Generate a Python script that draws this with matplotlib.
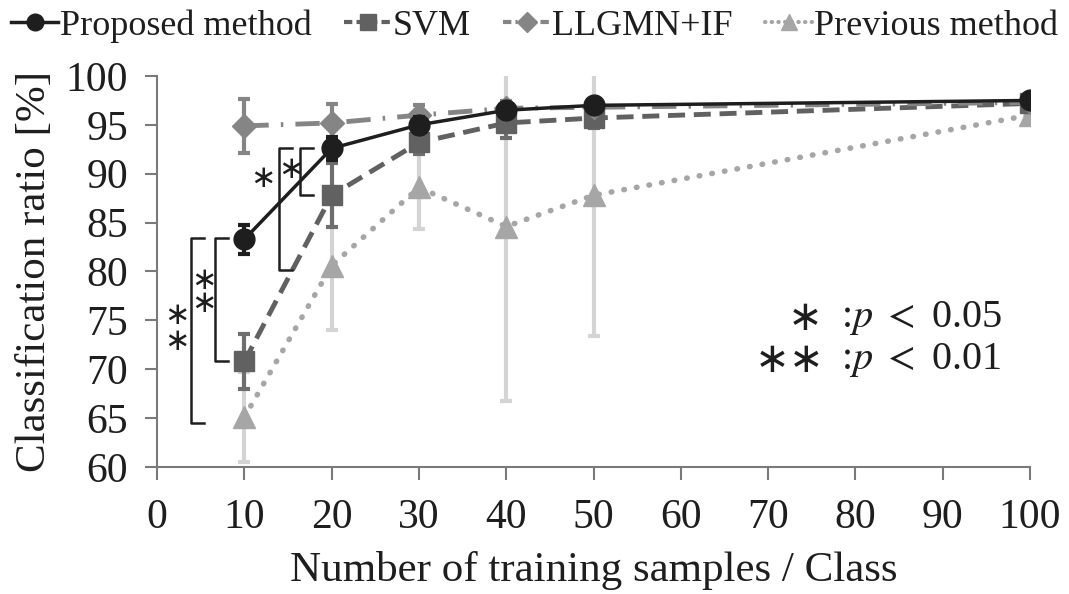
import matplotlib.pyplot as plt
from matplotlib.lines import Line2D

plt.rcParams['font.family'] = ['Liberation Serif', 'DejaVu Serif']
plt.rcParams['mathtext.fontset'] = 'stix'

# training samples per class
samples = [10, 20, 30, 40, 50, 100]

# classification ratio [%] and standard deviation
proposed = [83.3, 92.6, 95.0, 96.5, 97.0, 97.5]
proposed_sd = [1.5, 1.2, 0.8, 0.6, 0.5, 0.4]
svm = [70.8, 87.8, 93.2, 95.2, 95.7, 97.2]
svm_sd = [2.8, 3.3, 1.2, 1.5, 1.0, 0.5]
llgmn = [94.9, 95.2, 96.0, 96.7, 96.8, 97.3]
llgmn_sd = [2.8, 1.9, 1.0, 0.7, 0.6, 0.4]
previous = [65.1, 80.6, 88.6, 84.6, 87.8, 96.0]
previous_sd = [4.6, 6.6, 4.3, 17.9, 14.4, 0.8]

labels = ['Proposed method', 'SVM', 'LLGMN+IF', 'Previous method']

# significance brackets: x of bar, y top, y bottom, star mark,
# star offset from the bar (dx, dy) and line spacing for stacked stars
brackets = [(3.9, 83.4, 64.5, '∗\n∗', -1.6, 0.2, 0.85),
            (6.6, 83.4, 70.8, '∗\n∗', -1.3, 0.8, 0.7),
            (14.0, 92.6, 80.1, '∗', -1.9, 3.2, 1.0),
            (16.4, 92.6, 87.8, '∗', -1.1, 0.2, 1.0)]

fig = plt.figure(figsize=(10.69, 5.94), dpi=100)
ax = fig.add_axes([0.147, 0.214, 0.8165, 0.658])

ax.errorbar(samples, previous, yerr=previous_sd, color='#a6a6a6', ecolor='#d4d4d4',
            elinewidth=3, capsize=4, capthick=3, linestyle=(0, (0.1, 2.2)),
            dash_capstyle='round', lw=4, marker='^', markersize=16, zorder=2)
ax.errorbar(samples, svm, yerr=svm_sd, color='#616161', ecolor='#6e6e6e',
            elinewidth=3, capsize=4, capthick=3, linestyle=(0, (3.5, 1.8)),
            lw=3.5, marker='s', markersize=14, zorder=3)
ax.errorbar(samples, llgmn, yerr=llgmn_sd, color='#858585', ecolor='#858585',
            elinewidth=3, capsize=4, capthick=3, linestyle=(0, (5, 2.5, 0.5, 2.5)),
            lw=3.5, marker='D', markersize=12, zorder=4)
ax.errorbar(samples, proposed, yerr=proposed_sd, color='#1e1e1e', ecolor='#1e1e1e',
            elinewidth=3, capsize=4, capthick=3, linestyle='-',
            lw=2.5, marker='o', markersize=15, zorder=5)

for x, y0, y1, mark, dx, dy, spacing in brackets:
    ax.plot([x + 1.5, x, x, x + 1.5], [y0, y0, y1, y1], color='#1e1e1e', lw=1.8,
            clip_on=False, zorder=6)
    ax.text(x + dx, (y0 + y1) / 2 + dy, mark, ha='center', va='center',
            fontsize=22, linespacing=spacing, family=['DejaVu Sans'],
            color='#1e1e1e')

ax.text(0.742, 0.381, '∗', transform=ax.transAxes, fontsize=30, ha='center',
        va='center', family=['DejaVu Sans'], color='#1e1e1e')
ax.text(0.783, 0.381, r':$p\ <\ $0.05', transform=ax.transAxes, fontsize=29,
        ha='left', va='center', color='#1e1e1e')
ax.text(0.725, 0.274, '∗∗', transform=ax.transAxes, fontsize=30, ha='center',
        va='center', family=['DejaVu Sans'], color='#1e1e1e')
ax.text(0.783, 0.274, r':$p\ <\ $0.01', transform=ax.transAxes, fontsize=29,
        ha='left', va='center', color='#1e1e1e')

ax.set_xlim(0, 100)
ax.set_ylim(60, 100)
ax.set_xticks(range(0, 101, 10))
ax.set_yticks(range(60, 101, 5))
ax.spines['top'].set_visible(False)
ax.spines['right'].set_visible(False)
for s in ['left', 'bottom']:
    ax.spines[s].set_color('#7a7a7a')
    ax.spines[s].set_linewidth(1.5)
ax.tick_params(labelsize=30, length=9, width=1.5, color='#7a7a7a',
               labelcolor='#1e1e1e')
ax.tick_params(axis='x', pad=14)
ax.tick_params(axis='y', pad=12)
ax.set_xlabel('Number of training samples / Class', fontsize=31, labelpad=10,
              color='#1e1e1e')
ax.set_ylabel('Classification ratio [%]', fontsize=31, labelpad=8,
              color='#1e1e1e')

handles = [
    Line2D([], [], color='#1e1e1e', lw=2.5, marker='o', markersize=12),
    Line2D([], [], color='#616161', lw=3, ls=(0, (2, 1)), marker='s', markersize=12),
    Line2D([], [], color='#858585', lw=3, ls=(0, (2, 1, 0.5, 1)), marker='D', markersize=10),
    Line2D([], [], color='#a6a6a6', lw=3, ls=(0, (0.1, 1.5)), dash_capstyle='round',
           marker='^', markersize=12),
]
fig.legend(handles, labels, loc='upper center', bbox_to_anchor=(0.5, 1.015), ncol=4,
           frameon=False, fontsize=26, handlelength=1.3, handletextpad=0.05,
           columnspacing=0.9, borderaxespad=0.1, labelcolor='#1e1e1e')

fig.savefig('out.png', dpi=100)
